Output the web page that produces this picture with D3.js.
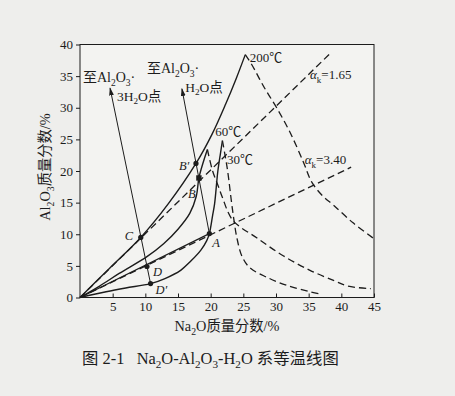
<!DOCTYPE html>
<html><head><meta charset="utf-8">
<script src="https://cdn.jsdelivr.net/npm/d3@7"></script>
<style>
body{margin:0;background:#eeeeec;}
svg{display:block;}
</style></head><body>
<svg id="chart" width="455" height="396"></svg>
<script>
// ---------- data ----------
const xTicks = [5, 10, 15, 20, 25, 30, 35, 40, 45];
const yTicks = [0, 5, 10, 15, 20, 25, 30, 35, 40];

const curve200Solid  = [[0,0],[4.5,4.6],[9.3,9.5],[13.5,14.8],[17.75,21.2],[20.2,25.8],[22.3,30.6],[23.9,34.6],[25.3,38.4]];
const curve200Dashed = [[25.3,38.4],[26.3,36.8],[28.2,33.2],[30.1,30.0],[32.2,26.0],[34.2,21.4],[35.5,18.2],[37.2,16.0],[38.8,14.6],[41.8,11.8],[45,9.3]];
const curve60Solid   = [[0,0],[3,1.8],[6,3.8],[10.3,6.5],[12.8,8.5],[15,10.8],[16.8,13.3],[17.8,16],[18.2,18.9],[18.9,21.5],[19.5,23.4]];
const curve60Dashed  = [[19.5,23.4],[20.3,20],[21.2,17.5],[21.8,15.8],[23.4,12.2],[27.1,9.4],[31.1,6.6],[35.2,4.3],[38.8,2.7],[41,1.8],[44.5,1.4]];
const curve30Solid   = [[0,0],[4,0.9],[7,1.5],[10.8,2.2],[13,3],[15.4,4.3],[17,5.8],[18.5,7.5],[19.4,9],[19.8,10.1],[20.3,13],[20.6,14.8],[21.1,20],[21.5,22.8],[21.8,24.8]];
const curve30Dashed  = [[21.8,24.8],[22.2,22.5],[22.6,20],[23.2,15],[23.6,12],[24,9.5],[24.8,6.5],[26,4.7],[28.6,3.2],[31.7,1.9],[35.2,0.9],[36.5,0.6]];

const alpha165Line = [[0,0],[38.3,38.6]];
const alpha340Line = [[0,0],[41.5,20.6]];
const lineOA       = [[0,0],[19.8,10.1]];
const arrowLine1   = [[10.8,2.2],[4.6,33.1]];
const arrowLine2   = [[19.8,10.1],[15.6,33.0]];

const pointNames = ["A", "B", "B′", "C", "D", "D′"];
const pointX     = [19.8, 18.2, 17.75, 9.3, 10.25, 10.8];
const pointY     = [10.1, 18.9, 21.2, 9.5, 4.9, 2.2];

// annotation texts ( _x = subscript ) and their anchor positions in data units
const annoTexts = ["至Al_2O_3·", "3H_2O点", "至Al_2O_3·", "H_2O点", "200℃", "60℃", "30℃"];
const annoX     = [0.45, 5.65, 10.25, 16.1, 26.0, 20.7, 22.5];
const annoY     = [34.0, 31.1, 35.45, 32.55, 37.2, 25.5, 21.1];
const annoSize  = [14, 13.5, 14, 13.5, 13, 13, 13];
const alphaLabels = ["1.65", "3.40"];
const alphaLabX   = [35.2, 34.4];
const alphaLabY   = [34.5, 21.1];

// ---------- drawing ----------
const svg = d3.select("#chart");
const ink = "#1c1c1c";
const serif = "'Liberation Serif','Noto Sans CJK SC',serif";

const x = d3.scaleLinear().domain([0, 45]).range([80, 374]);
const y = d3.scaleLinear().domain([0, 40]).range([297.5, 44.5]);

svg.append("defs").append("marker")
  .attr("id", "arr").attr("viewBox", "0 0 10 6").attr("refX", 9).attr("refY", 3)
  .attr("markerWidth", 8).attr("markerHeight", 5).attr("orient", "auto")
  .attr("markerUnits", "userSpaceOnUse")
  .append("path").attr("d", "M0,0 L10,3 L0,6 z").attr("fill", ink);

// frame
svg.append("rect")
  .attr("x", x(0)).attr("y", y(40))
  .attr("width", x(45) - x(0)).attr("height", y(0) - y(40))
  .attr("fill", "#f3f3f1").attr("stroke", ink).attr("stroke-width", 1);

// axes
const xAxis = svg.append("g").attr("transform", `translate(0,${y(0)})`)
  .call(d3.axisBottom(x).tickValues(xTicks).tickSize(-4).tickPadding(1).tickFormat(d3.format("d")));
const yAxis = svg.append("g").attr("transform", `translate(${x(0)},0)`)
  .call(d3.axisLeft(y).tickValues(yTicks).tickSize(4).tickPadding(3).tickFormat(d3.format("d")));
[xAxis, yAxis].forEach(g => {
  g.select(".domain").remove();
  g.selectAll("line").attr("stroke", ink);
  g.selectAll("text").attr("fill", ink).style("font-family", serif).style("font-size", "13px");
});
xAxis.selectAll("text").attr("y", 4);

const line = d3.line().x(d => x(d[0])).y(d => y(d[1])).curve(d3.curveCatmullRom.alpha(0.5));
const straight = d3.line().x(d => x(d[0])).y(d => y(d[1]));

const gPlot = svg.append("g");
function drawPath(data, gen, dashed, width) {
  gPlot.append("path").attr("d", gen(data)).attr("fill", "none")
    .attr("stroke", ink).attr("stroke-width", width)
    .attr("stroke-dasharray", dashed ? "7,4" : null);
}
drawPath(alpha165Line, straight, true, 1.3);
drawPath(alpha340Line, straight, true, 1.3);
drawPath(curve200Dashed, line, true, 1.3);
drawPath(curve60Dashed, line, true, 1.3);
drawPath(curve30Dashed, line, true, 1.3);
drawPath(curve200Solid, line, false, 1.4);
drawPath(curve60Solid, line, false, 1.4);
drawPath(curve30Solid, line, false, 1.4);
drawPath(lineOA, straight, false, 1.2);

[arrowLine1, arrowLine2].forEach(a => {
  gPlot.append("path").attr("d", straight(a)).attr("fill", "none")
    .attr("stroke", ink).attr("stroke-width", 1).attr("marker-end", "url(#arr)");
});

// points
const labelOff = {"A":[3,13], "B":[-11,20], "B′":[-17,7], "C":[-16,3], "D":[6,9], "D′":[5,10]};
pointNames.forEach((n, i) => {
  const px = x(pointX[i]), py = y(pointY[i]);
  if (n === "B") {
    gPlot.append("rect").attr("x", px - 2.7).attr("y", py - 2.7).attr("width", 5.4).attr("height", 5.4).attr("fill", ink);
  } else {
    gPlot.append("circle").attr("cx", px).attr("cy", py).attr("r", 2.6).attr("fill", ink);
  }
  gPlot.append("text").attr("x", px + labelOff[n][0]).attr("y", py + labelOff[n][1])
    .attr("fill", ink).style("font-family", serif).style("font-style", "italic").style("font-size", "12.5px")
    .text(n);
});

// chemistry-aware text
function chem(sel, str, size) {
  const toks = [];
  for (let i = 0; i < str.length; i++) {
    if (str[i] === "_") { toks.push({t: str[i + 1], sub: true}); i++; }
    else if (toks.length && !toks[toks.length - 1].sub) toks[toks.length - 1].t += str[i];
    else toks.push({t: str[i], sub: false});
  }
  let shifted = false;
  toks.forEach(tk => {
    const ts = sel.append("tspan").text(tk.t);
    if (tk.sub) { ts.style("font-size", (size * 0.68) + "px"); if (!shifted) { ts.attr("dy", size * 0.25); shifted = true; } }
    else if (shifted) { ts.attr("dy", -size * 0.25); shifted = false; }
  });
}

annoTexts.forEach((t, i) => {
  const tx = svg.append("text").attr("x", x(annoX[i])).attr("y", y(annoY[i]))
    .attr("fill", ink).style("font-family", serif).style("font-size", annoSize[i] + "px");
  chem(tx, t, annoSize[i]);
});
alphaLabels.forEach((v, i) => {
  const tx = svg.append("text").attr("x", x(alphaLabX[i])).attr("y", y(alphaLabY[i]))
    .attr("fill", ink).style("font-family", serif).style("font-size", "13px");
  tx.append("tspan").style("font-style", "italic").text("α");
  tx.append("tspan").style("font-size", "9px").attr("dy", 3.5).text("k");
  tx.append("tspan").attr("dy", -3.5).text("=" + v);
});

// axis titles
const yt = svg.append("text").attr("transform", "translate(50,167) rotate(-90)")
  .attr("text-anchor", "middle").attr("fill", ink).style("font-family", serif).style("font-size", "14.3px");
chem(yt, "Al_2O_3质量分数/%", 14.3);
const xt = svg.append("text").attr("x", 227).attr("y", 331)
  .attr("text-anchor", "middle").attr("fill", ink).style("font-family", serif).style("font-size", "14.3px");
chem(xt, "Na_2O质量分数/%", 14.3);
const cap = svg.append("text").attr("x", 82).attr("y", 364)
  .attr("fill", ink).style("font-family", serif).style("font-size", "16.4px").attr("xml:space", "preserve");
chem(cap, "图 2-1   Na_2O-Al_2O_3-H_2O 系等温线图", 16.4);
</script>
</body></html>
